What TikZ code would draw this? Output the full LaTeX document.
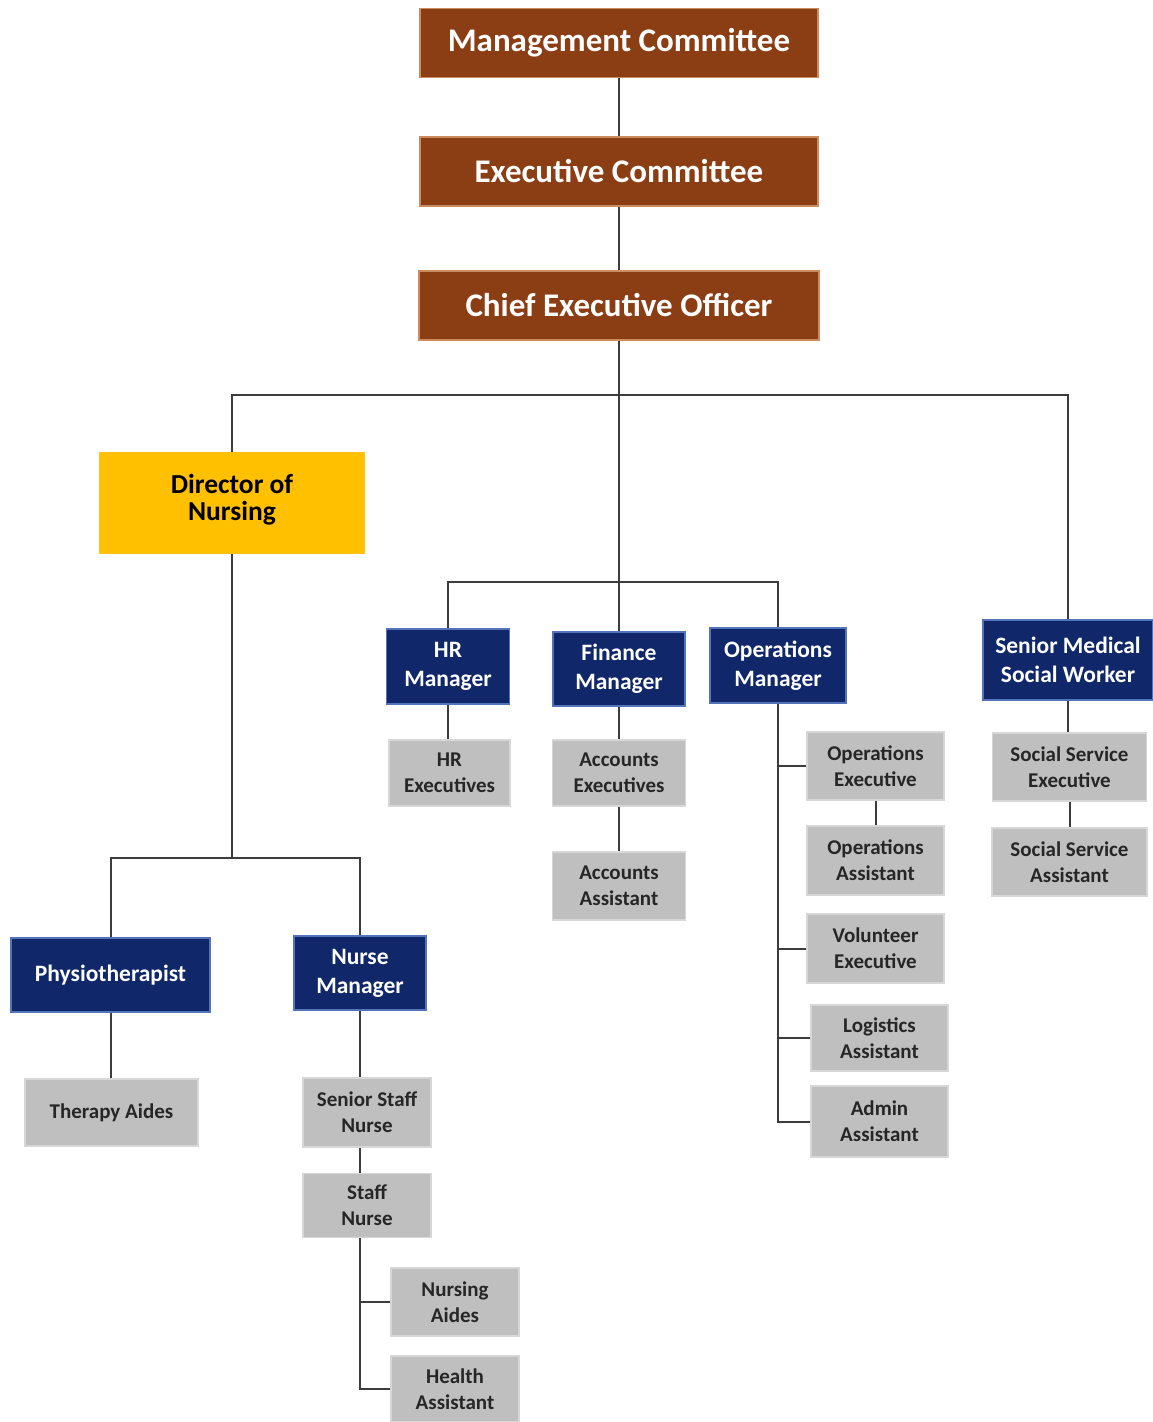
\documentclass[tikz,border=0pt]{standalone}
\usepackage{fontspec}
\setmainfont{Carlito}
\usetikzlibrary{backgrounds}
\definecolor{mgmtbrown}{RGB}{139,61,20}
\definecolor{mgmtedge}{RGB}{205,140,95}
\definecolor{navyfill}{RGB}{16,40,106}
\definecolor{navyedge}{RGB}{85,115,185}
\definecolor{greyfill}{RGB}{191,191,191}
\definecolor{greyedge}{RGB}{215,215,215}
\definecolor{dongold}{RGB}{255,192,0}
\definecolor{linkgrey}{RGB}{60,60,60}
\tikzset{
  box/.style={rectangle,align=center,inner sep=2pt,font=\bfseries},
  brownbox/.style={box,fill=mgmtbrown,draw=mgmtedge,line width=1.5pt,text=white,
    minimum width=398,minimum height=69,font=\bfseries\fontsize{33}{38}\selectfont},
  bluebox/.style={box,fill=navyfill,draw=navyedge,line width=1.5pt,text=white,
    minimum height=74,font=\bfseries\fontsize{23.5}{29}\selectfont},
  greybox/.style={box,fill=greyfill,draw=greyedge,line width=1.5pt,text=black!85,
    minimum height=67,font=\bfseries\fontsize{21}{26}\selectfont},
  goldbox/.style={box,fill=dongold,draw=dongold!90!white,line width=1pt,text=black,
    minimum width=265,minimum height=101,font=\bfseries\fontsize{27.5}{27}\selectfont},
  link/.style={draw=linkgrey,line width=2pt}
}
\begin{document}
\begin{tikzpicture}[x=1pt,y=-1pt]
\useasboundingbox (0,0) rectangle (1153,1422);

% top of the tree
\node[brownbox] (mc) at (619,43) {Management Committee};
\node[brownbox] (ec) at (619,171.5) {Executive Committee};
\node[brownbox,minimum width=400] (ceo) at (619,305.5) {Chief Executive Officer};

% second level
\node[goldbox] (don) at (232,502.5) {Director of\\Nursing\\[-0.6em]};
\node[bluebox,minimum width=123,minimum height=75] (hrm) at (448,666.5) {HR\\Manager};
\node[bluebox,minimum width=132] (fm) at (619,669) {Finance\\Manager};
\node[bluebox,minimum width=136,minimum height=75] (om) at (778,665.5) {Operations\\Manager};
\node[bluebox,minimum width=170,minimum height=80] (smsw) at (1068,660) {Senior Medical\\Social Worker};

% nursing
\node[bluebox,minimum width=199] (phy) at (110.5,975) {Physiotherapist};
\node[bluebox,minimum width=132] (nm) at (360,973) {Nurse\\Manager};
\node[greybox,minimum width=173] (ta) at (111.5,1112.5) {Therapy Aides};
\node[greybox,minimum width=128,minimum height=69] (ssn) at (367,1112.5) {Senior Staff\\Nurse};
\node[greybox,minimum width=128,minimum height=64] (sn) at (367,1205.5) {Staff\\Nurse};
\node[greybox,minimum width=128,minimum height=68] (na) at (455,1302) {Nursing\\Aides};
\node[greybox,minimum width=128,minimum height=66] (ha) at (455,1389) {Health\\Assistant};

% hr and finance
\node[greybox,minimum width=121,minimum height=66] (hre) at (449.5,773) {HR\\Executives};
\node[greybox,minimum width=133,minimum height=66] (ae) at (619,773) {Accounts\\Executives};
\node[greybox,minimum width=133,minimum height=68] (aa) at (619,886) {Accounts\\Assistant};

% operations
\node[greybox,minimum width=137,minimum height=68] (oe) at (875.5,766) {Operations\\Executive};
\node[greybox,minimum width=137,minimum height=69] (oa) at (875.5,860.5) {Operations\\Assistant};
\node[greybox,minimum width=137,minimum height=69] (ve) at (875.5,948.5) {Volunteer\\Executive};
\node[greybox,minimum width=137,minimum height=66] (la) at (879.5,1038) {Logistics\\Assistant};
\node[greybox,minimum width=137,minimum height=71] (ada) at (879.5,1121.5) {Admin\\Assistant};

% social work
\node[greybox,minimum width=154,minimum height=68] (sse) at (1069.5,767) {Social Service\\Executive};
\node[greybox,minimum width=155,minimum height=68] (ssa) at (1069.5,862) {Social Service\\Assistant};

\coordinate (topbar) at (619,395);
\coordinate (midbar) at (619,582);
\coordinate (donbar) at (232,858);

\begin{scope}[on background layer]
\draw[link] (mc.south) -- (ec.north);
\draw[link] (ec.south) -- (ceo.north);
\draw[link] (ceo.south) -- (fm.north);
\draw[link] (don.north) |- (topbar) -| (smsw.north);
\draw[link] (hrm.north) |- (midbar) -| (om.north);
\draw[link] (hrm.south) -- (hrm.south |- hre.north);
\draw[link] (fm.south) -- (ae.north);
\draw[link] (ae.south) -- (aa.north);
\draw[link] (om.south) -- (om.south |- ada.west) -- (ada.west);
\draw[link] (om.south |- oe.west) -- (oe.west);
\draw[link] (om.south |- ve.west) -- (ve.west);
\draw[link] (om.south |- la.west) -- (la.west);
\draw[link] (oe.south) -- (oa.north);
\draw[link] (smsw.south) -- (smsw.south |- sse.north);
\draw[link] (sse.south -| ssa.north) -- (ssa.north);
\draw[link] (don.south) -- (donbar);
\draw[link] (phy.north) |- (donbar) -| (nm.north);
\draw[link] (phy.south) -- (phy.south |- ta.north);
\draw[link] (nm.south) -- (nm.south |- sn.north);
\draw[link] (nm.south |- sn.south) |- (ha.west);
\draw[link] (nm.south |- na.west) -- (na.west);
\end{scope}
\end{tikzpicture}
\end{document}
